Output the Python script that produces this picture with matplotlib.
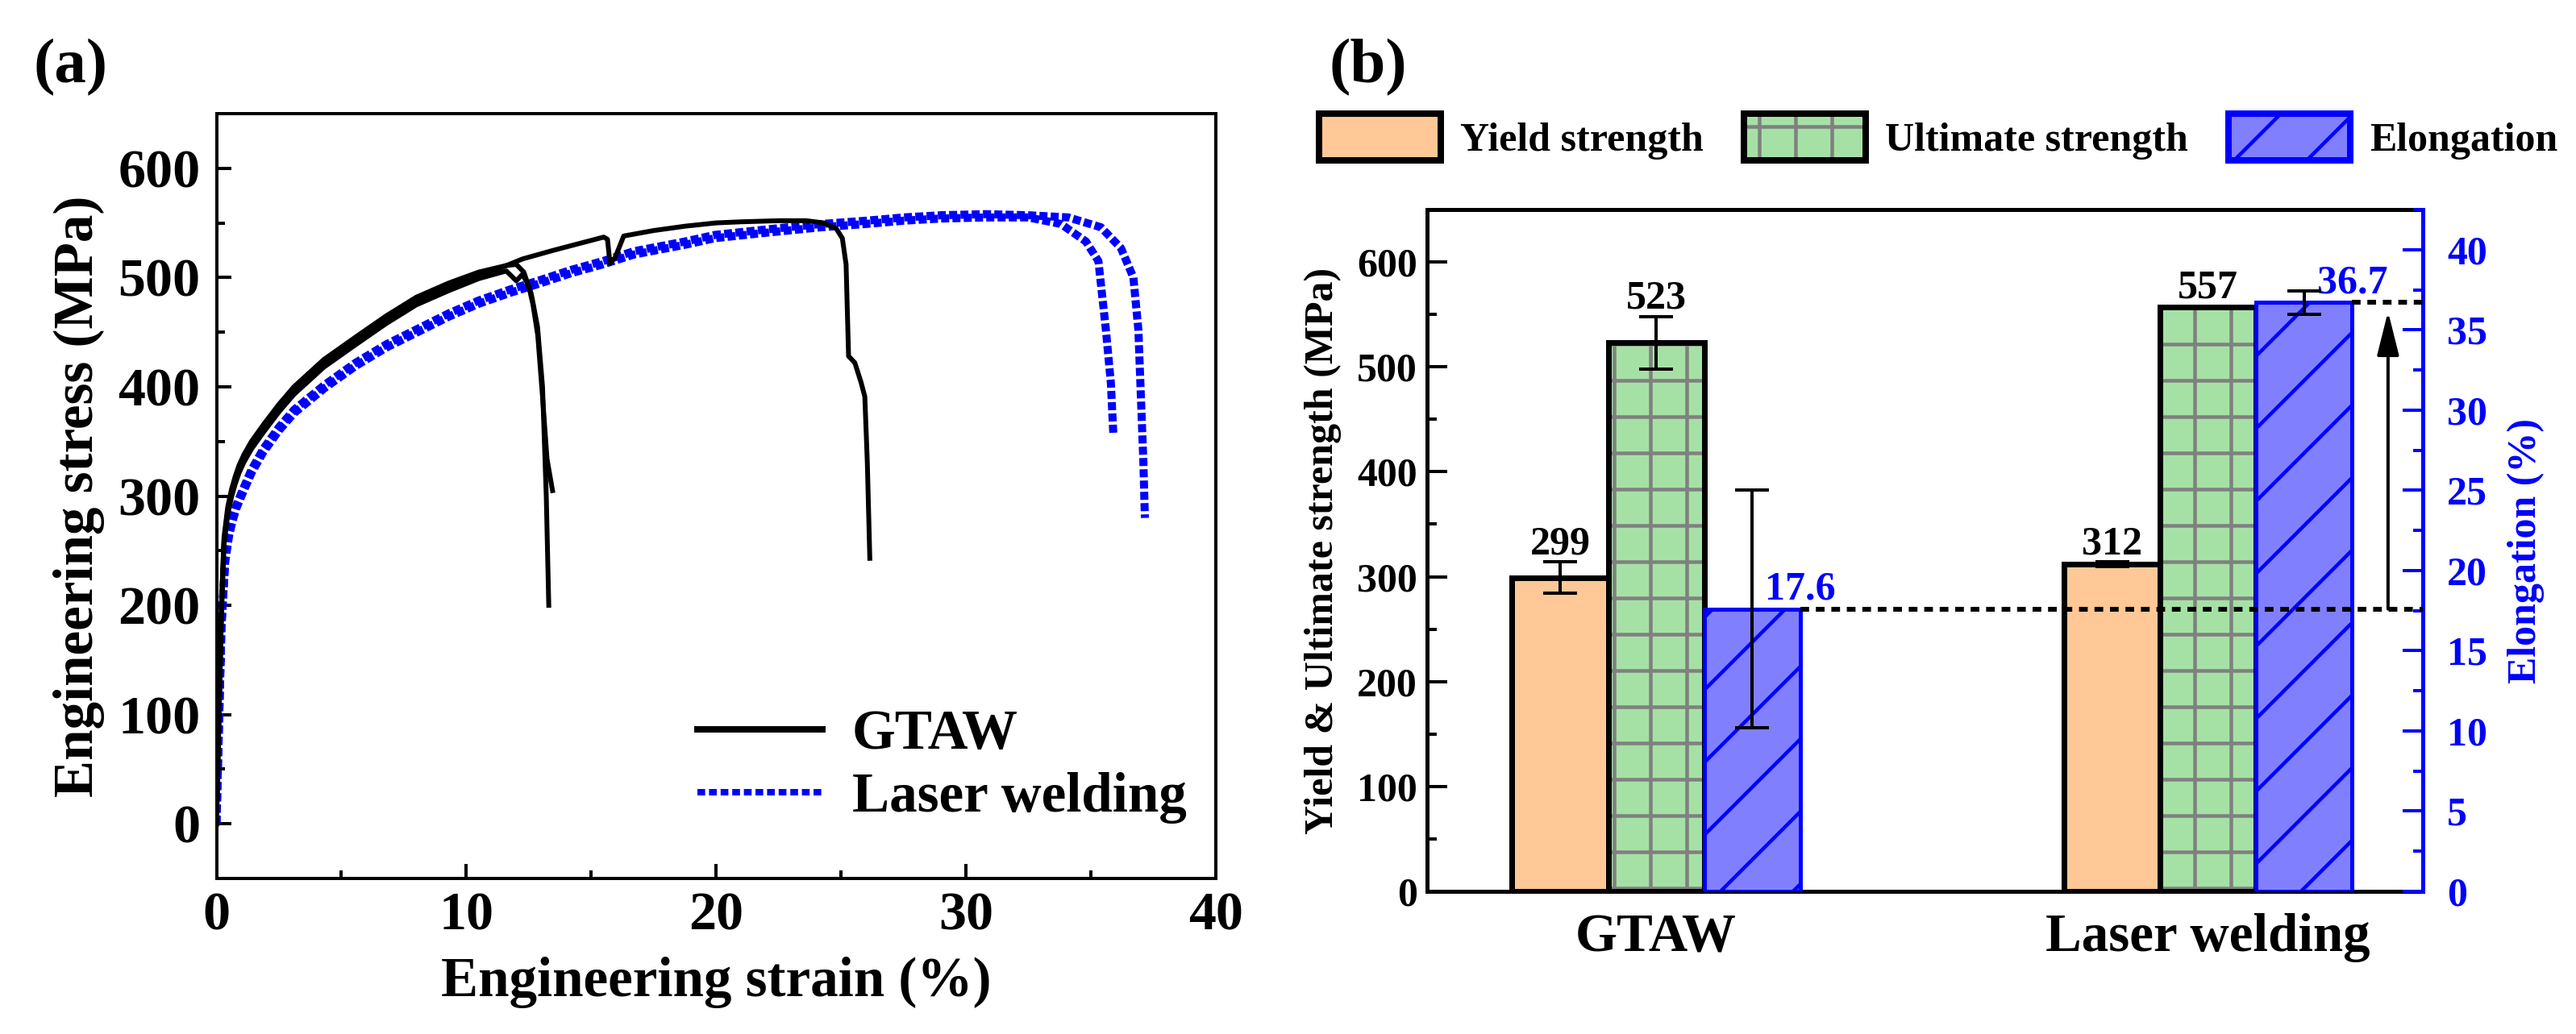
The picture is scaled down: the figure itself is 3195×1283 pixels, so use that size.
import matplotlib
matplotlib.use('Agg')
import matplotlib.pyplot as plt
import numpy as np
from matplotlib.patches import Patch
from matplotlib.lines import Line2D
from matplotlib.legend_handler import HandlerTuple
from matplotlib.ticker import MultipleLocator

# ---------------- data: panel (a) ----------------
gtaw1_strain = [0, 0.1, 0.2, 0.3, 0.45, 0.6, 0.75, 0.9, 1.1, 1.4, 1.9, 2.5, 3.1, 4.3, 5.6,
                6.8, 8.0, 9.3, 10.5, 11.6, 12.0, 12.3, 12.6, 12.85, 13.05, 13.2, 13.3]
gtaw1_stress = [0, 100, 200, 262, 290, 306, 318, 328, 338, 350, 366, 384, 400, 425, 446,
                465, 482, 495, 505, 511, 512, 505, 485, 455, 400, 300, 200]

gtaw2_strain = [0, 0.1, 0.2, 0.3, 0.45, 0.6, 0.75, 0.9, 1.1, 1.4, 1.9, 2.5, 3.1, 4.3, 5.6,
                6.8, 8.0, 9.3, 10.5, 11.6, 12.0, 12.25, 12.5, 12.67, 12.86, 13.05, 13.23,
                13.45]
gtaw2_stress = [0, 95, 190, 255, 283, 299, 311, 321, 331, 343, 359, 377, 393, 418, 439,
                458, 475, 488, 499, 506, 497, 503, 492, 475, 447, 391, 334, 305]

gtaw3_strain = [0, 0.1, 0.2, 0.3, 0.45, 0.58, 0.75, 0.9, 1.1, 1.4, 1.87, 2.5, 3.11, 4.34,
                5.58, 6.81, 8.05, 9.28, 10.52, 11.5, 12.25, 13.5, 14.5, 15.5, 15.65, 15.75,
                15.95, 16.3, 17.5, 18.76, 20.0, 21.0, 22.5, 23.6, 24.3, 24.8, 25.05, 25.2,
                25.3, 25.55, 25.8, 25.95, 26.05, 26.15]
gtaw3_stress = [0, 100, 200, 258, 287, 301, 314, 324, 334, 346, 362, 380, 396, 421,
                442, 461, 478, 491, 502, 510, 517, 525, 531, 537, 535, 513,
                518, 538, 543, 547, 550, 551, 552, 552, 550, 545, 536, 512,
                428, 422, 404, 391, 331, 243]

laser1_strain = [0, 0.1, 0.2, 0.35, 0.5, 0.64, 0.8, 1.0, 1.4, 1.87, 2.5, 3.11, 4.34, 5.57,
                 6.81, 8.05, 9.28, 10.5, 11.75, 13.0, 14.2, 15.46, 16.7, 18.76, 19.95,
                 22.0, 24.2, 26.0, 27.5, 29.0, 30.8, 32.5, 33.8, 34.8, 35.3, 35.4, 35.6,
                 35.8, 35.9]
laser1_stress = [0, 90, 180, 240, 263, 277, 289, 300, 321, 340, 360, 376, 399, 419,
                 436, 450, 464, 476, 486, 495, 504, 512, 521, 530, 536,
                 541, 546, 549, 552, 554, 555, 555, 549, 533, 515, 494, 452,
                 403, 355]

laser2_strain = [0, 0.1, 0.2, 0.35, 0.5, 0.64, 0.8, 1.0, 1.4, 1.87, 2.5, 3.11, 4.34, 5.57,
                 6.81, 8.05, 9.28, 10.5, 11.75, 13.0, 14.2, 15.46, 16.7, 18.76, 19.95,
                 22.0, 24.2, 26.0, 27.5, 29.0, 30.8, 32.5, 34.1, 35.4, 36.2, 36.7, 36.9,
                 37.0, 37.1, 37.16]
laser2_stress = [0, 92, 183, 243, 266, 280, 292, 303, 324, 343, 363, 379, 402, 422,
                 439, 453, 467, 479, 489, 498, 507, 515, 524, 533, 539,
                 544, 549, 552, 555, 557, 558, 557, 555, 546, 527, 500, 452,
                 391, 331, 280]

# ---------------- data: panel (b) ----------------
groups = ['GTAW', 'Laser welding']
yield_strength = [299, 312]
yield_err = [15, 2]
ultimate_strength = [523, 557]
ultimate_err = [25, 1]
elongation = [17.6, 36.7]
elongation_err = [7.4, 0.75]

# ---------------- setup ----------------
DPI = 270
W, H = 3195, 1283


def px(v):
    return v * 72.0 / DPI


plt.rcParams['font.family'] = ['Liberation Serif', 'DejaVu Serif']
plt.rcParams['font.weight'] = 'bold'
plt.rcParams['axes.labelweight'] = 'bold'
plt.rcParams['hatch.linewidth'] = px(4.5)

fig = plt.figure(figsize=(W / DPI, H / DPI), dpi=DPI)


def fig_axes(l, t, r, b):
    return fig.add_axes([l / W, 1 - b / H, (r - l) / W, (b - t) / H])


BLUE = '#0000FF'

# ================= panel (a) =================
axa = fig_axes(268.5, 141, 1508, 1090)
for s, st in [(gtaw1_strain, gtaw1_stress), (gtaw2_strain, gtaw2_stress),
              (gtaw3_strain, gtaw3_stress)]:
    axa.plot(s, st, color='black', lw=px(6), solid_joinstyle='round', zorder=3)
for s, st in [(laser1_strain, laser1_stress), (laser2_strain, laser2_stress)]:
    axa.plot(s, st, color=BLUE, lw=px(10), ls=(0, (1.0, 0.4)), zorder=2)

axa.set_xlim(0, 40)
axa.set_ylim(-50, 650)
axa.xaxis.set_major_locator(MultipleLocator(10))
axa.xaxis.set_minor_locator(MultipleLocator(5))
axa.yaxis.set_major_locator(MultipleLocator(100))
axa.yaxis.set_minor_locator(MultipleLocator(50))
axa.tick_params(which='both', direction='in', width=px(4), top=False, right=False)
axa.tick_params(which='major', length=px(18), labelsize=px(68))
axa.tick_params(which='minor', length=px(10))
axa.tick_params(axis='x', pad=px(17))
axa.tick_params(axis='y', pad=px(20))
for sp in axa.spines.values():
    sp.set_linewidth(px(4))

axa.set_xlabel('Engineering strain (%)', fontsize=px(69), va='center')
axa.xaxis.set_label_coords(0.5, -0.136)
axa.set_ylabel('Engineering stress (MPa)', fontsize=px(69), ha='center', va='center',
               rotation_mode='default')
axa.yaxis.set_label_coords(-0.1376, 0.5)

leg_a = axa.legend([Line2D([], [], color='black', lw=px(8)),
                    Line2D([], [], color=BLUE, lw=px(8), ls=(0, (1.2, 0.6)))],
                   ['GTAW', 'Laser welding'],
                   loc='upper left', bbox_to_anchor=((865 - 268.5) / 1239.5, 0.2213),
                   frameon=False, fontsize=px(69), handlelength=155 / 69,
                   handletextpad=0.53, borderpad=0, borderaxespad=0, labelspacing=0.2)

fig.text(88 / W, 1 - 84 / H, '(a)', fontsize=px(79), ha='center', va='center')

# ================= panel (b) =================
axb = fig_axes(1770, 260, 3005, 1106)
axe = axb.twinx()
x = np.arange(len(groups))
w = 0.174

YELLOW = '#FFC896'
GREEN = '#A5E1A5'
VIOLET = '#8080FF'

axb.bar(x - w, yield_strength, w, color=YELLOW, edgecolor='black', lw=px(7), zorder=2)
axb.bar(x, ultimate_strength, w, color=GREEN, edgecolor='#808080', hatch='+', lw=0, zorder=2)
axb.bar(x, ultimate_strength, w, fill=False, edgecolor='black', lw=px(7), zorder=3)
axb.errorbar(x - w, yield_strength, yerr=yield_err, fmt='none', ecolor='black',
             elinewidth=px(4), capsize=px(21), capthick=px(4), zorder=4)
axb.errorbar(x, ultimate_strength, yerr=ultimate_err, fmt='none', ecolor='black',
             elinewidth=px(4), capsize=px(21), capthick=px(4), zorder=4)
for xi, v, e in zip(x - w, yield_strength, yield_err):
    axb.annotate(f'{v}', xy=(xi, v + e), xytext=(0, px(10)), textcoords='offset points',
                 ha='center', va='baseline', fontsize=px(50))
for xi, v, e in zip(x, ultimate_strength, ultimate_err):
    axb.annotate(f'{v}', xy=(xi, v + e), xytext=(0, px(10)), textcoords='offset points',
                 ha='center', va='baseline', fontsize=px(50))

axb.set_xlim(-0.415, 1.389)
axb.set_ylim(0, 650)
axe.set_ylim(0, 42.5)

axe.bar(x + w, elongation, w, color=VIOLET, edgecolor=BLUE, hatch='/', lw=px(5), zorder=2)
axe.errorbar(x + w, elongation, yerr=elongation_err, fmt='none', ecolor='black',
             elinewidth=px(4), capsize=px(21), capthick=px(4), zorder=4)
for xi, v in zip(x + 1.5 * w, elongation):
    axe.annotate(f'{v}', xy=(xi, v), xytext=(0, px(12)), textcoords='offset points',
                 ha='center', va='baseline', fontsize=px(50), color=BLUE)

xr = axb.get_xlim()[1]
axe.plot([x[0] + 1.5 * w, xr], [elongation[0], elongation[0]], color='black',
         lw=px(6), ls=(0, (1.8, 1.4)), zorder=5)
axe.plot([x[1] + 1.5 * w, xr], [elongation[1], elongation[1]], color='black',
         lw=px(6), ls=(0, (1.8, 1.4)), zorder=5)
arrow_x = x[1] + 1.5 * w + 0.065
axe.annotate('', xy=(arrow_x, elongation[1]), xytext=(arrow_x, elongation[0]),
             arrowprops=dict(arrowstyle='-|>,head_length=0.8,head_width=0.2',
                             color='black', lw=px(4), mutation_scale=px(58),
                             shrinkA=0, shrinkB=px(11)), zorder=6)

axb.set_xticks(x, groups)
axb.tick_params(axis='x', length=0, labelsize=px(67), pad=px(27))
axb.yaxis.set_major_locator(MultipleLocator(100))
axb.yaxis.set_minor_locator(MultipleLocator(50))
axb.tick_params(axis='y', which='both', direction='in', width=px(4), labelsize=px(50),
                pad=px(12))
axb.tick_params(axis='y', which='major', length=px(25))
axb.tick_params(axis='y', which='minor', length=px(12))

axe.yaxis.set_major_locator(MultipleLocator(5))
axe.yaxis.set_minor_locator(MultipleLocator(2.5))
axe.tick_params(axis='y', which='both', direction='in', width=px(4), labelsize=px(50),
                pad=px(30), colors=BLUE)
axe.tick_params(axis='y', which='major', length=px(25))
axe.tick_params(axis='y', which='minor', length=px(12))

for sp in axb.spines.values():
    sp.set_linewidth(px(5))
axb.spines['right'].set_visible(False)
for name, sp in axe.spines.items():
    if name == 'right':
        sp.set_color(BLUE)
        sp.set_linewidth(px(5))
    else:
        sp.set_visible(False)

axb.set_ylabel('Yield & Ultimate strength (MPa)', fontsize=px(50), ha='center',
               va='center', rotation_mode='default')
axb.yaxis.set_label_coords(-0.1045, 0.5)
axe.set_ylabel('Elongation (%)', fontsize=px(50), color=BLUE, ha='center', va='center',
               rotation_mode='default')
axe.yaxis.set_label_coords(1.1036, 0.5)

handles_b = [Patch(facecolor=YELLOW, edgecolor='black', lw=px(8)),
             (Patch(facecolor=GREEN, edgecolor='#808080', hatch='+', lw=0),
              Patch(fill=False, edgecolor='black', lw=px(8))),
             Patch(facecolor=VIOLET, edgecolor=BLUE, hatch='/', lw=px(8))]
fig.legend(handles_b, ['Yield strength', 'Ultimate strength', 'Elongation'],
           handler_map={tuple: HandlerTuple(ndivide=1, pad=0)},
           loc='center left', bbox_to_anchor=(1636 / W, 1 - 170 / H), ncol=3,
           frameon=False, fontsize=px(50), handlelength=3.02, handleheight=1.42,
           handletextpad=0.48, columnspacing=1.0, borderpad=0, borderaxespad=0)

fig.text(1697 / W, 1 - 84 / H, '(b)', fontsize=px(79), ha='center', va='center')

fig.savefig('out.png', dpi=DPI)
